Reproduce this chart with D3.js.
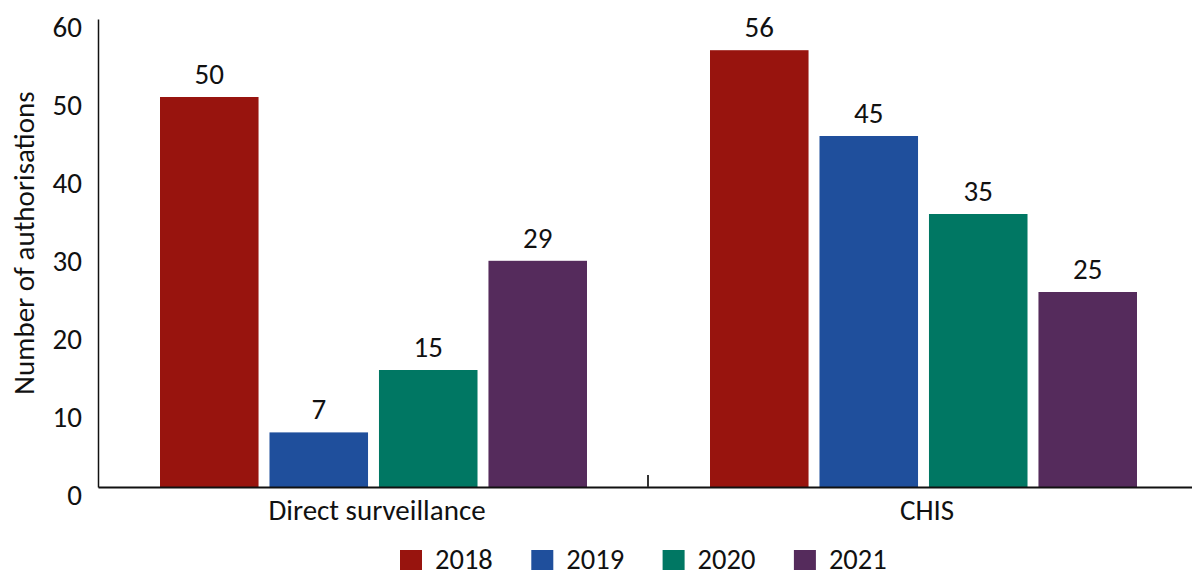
<!DOCTYPE html>
<html>
<head>
<meta charset="utf-8">
<script src="https://cdn.jsdelivr.net/npm/d3@7"></script>
<style>
  html, body { margin: 0; padding: 0; background: #fff; }
  svg { display: block; font-family: Carlito, Lato, "Open Sans", sans-serif; }
</style>
</head>
<body>
<svg id="chart" width="1192" height="571"></svg>
<script>
// Authorisations by type and year
const categories = ["Direct surveillance", "CHIS"];
const years = ["2018", "2019", "2020", "2021"];
const values2018 = [50, 56];
const values2019 = [7, 45];
const values2020 = [15, 35];
const values2021 = [29, 25];
const yTicks = [0, 10, 20, 30, 40, 50, 60];
const yTitle = "Number of authorisations";

const seriesValues = [values2018, values2019, values2020, values2021];
const colors = ["#98140e", "#1f4f9c", "#007763", "#552b5c"];

const svg = d3.select("#chart");
const plot = { left: 98, right: 1198, top: 19, bottom: 487 };
const FONT = "Carlito, Lato, sans-serif";

const x0 = d3.scaleBand().domain(categories).range([plot.left, plot.right]);
const x1 = d3.scaleBand().domain(years).range([62, 489]).paddingInner(0.1);
const y = d3.scaleLinear().domain([0, 60]).range([plot.bottom, plot.top]);

const rows = categories.map((c, i) => ({
  category: c,
  bars: years.map((yr, j) => ({ year: yr, value: seriesValues[j][i], color: colors[j] }))
}));

// bars
const groups = svg.append("g").selectAll("g").data(rows).join("g")
  .attr("transform", d => `translate(${x0(d.category)},0)`);

groups.selectAll("rect").data(d => d.bars).join("rect")
  .attr("x", d => x1(d.year))
  .attr("y", d => y(d.value))
  .attr("width", x1.bandwidth())
  .attr("height", d => y(0) - y(d.value))
  .attr("fill", d => d.color);

groups.selectAll("text").data(d => d.bars).join("text")
  .attr("x", d => x1(d.year) + x1.bandwidth() / 2)
  .attr("y", d => y(d.value) - 13)
  .attr("text-anchor", "middle")
  .attr("font-size", 29)
  .attr("fill", "#111")
  .text(d => d.value);

// y axis
const yAxis = d3.axisLeft(y).tickValues(yTicks).tickSize(0).tickPadding(16);
const gy = svg.append("g").attr("transform", `translate(${plot.left},0)`).call(yAxis);
gy.select(".domain").attr("stroke", "#111").attr("stroke-width", 1.5);
gy.selectAll("text").attr("font-size", 29).attr("fill", "#111").attr("dy", "0.59em")
  .attr("font-family", FONT);

// x axis
const xAxis = d3.axisBottom(x0).tickSize(0).tickPadding(12);
const gx = svg.append("g").attr("transform", `translate(0,${plot.bottom})`).call(xAxis);
gx.select(".domain").attr("stroke", "#111").attr("stroke-width", 2);
gx.selectAll("text").attr("font-size", 29).attr("fill", "#111").attr("dy", "0.71em")
  .attr("dx", 4).attr("font-family", FONT);

// category dividers
svg.append("g").selectAll("line")
  .data(categories.slice(1))
  .join("line")
  .attr("x1", d => x0(d)).attr("x2", d => x0(d))
  .attr("y1", plot.bottom - 12).attr("y2", plot.bottom)
  .attr("stroke", "#333").attr("stroke-width", 2);

// y axis title
svg.append("text")
  .attr("transform", `translate(34,243) rotate(-90)`)
  .attr("text-anchor", "middle")
  .attr("font-size", 29)
  .attr("fill", "#111")
  .text(yTitle);

// legend
const legend = svg.append("g").attr("transform", "translate(400,550)");
const items = legend.selectAll("g").data(years).join("g")
  .attr("transform", (d, i) => `translate(${i * 131.3},0)`);
items.append("rect").attr("width", 22).attr("height", 20).attr("fill", (d, i) => colors[i]);
items.append("text").attr("x", 35).attr("y", 19).attr("font-size", 28.5).attr("fill", "#111").text(d => d);
</script>
</body>
</html>
